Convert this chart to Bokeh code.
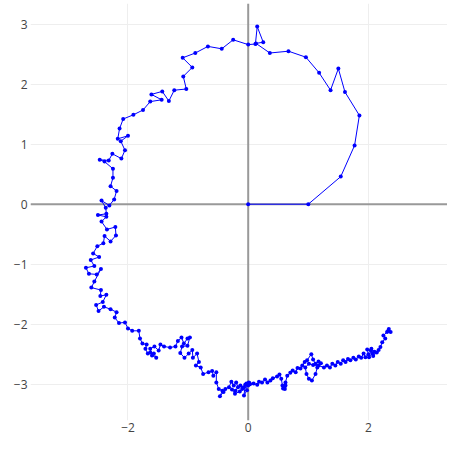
from bokeh.plotting import figure
from bokeh.models import FixedTicker, Span, Range1d
from bokeh.embed import file_html
from bokeh.resources import INLINE

xs = [0.00, 1.00, 1.54, 1.77, 1.85, 1.61, 1.50, 1.37, 1.18, 0.96, 0.67, 0.36, 0.13, 0.25, 0.15, 0.12, 0.00,
      -0.25, -0.44, -0.67, -0.88, -1.09, -0.93, -1.08, -1.03, -1.23, -1.32, -1.43, -1.61, -1.44, -1.63, -1.75,
      -1.91, -2.08, -2.14, -2.17, -2.00, -2.12, -2.05, -2.11, -2.26, -2.32, -2.47, -2.39, -2.25, -2.25, -2.29,
      -2.19, -2.23, -2.31, -2.44, -2.37, -2.36, -2.50, -2.36, -2.44, -2.35, -2.21, -2.20, -2.29, -2.39, -2.41,
      -2.51, -2.58, -2.48, -2.62, -2.56, -2.70, -2.65, -2.52, -2.45, -2.56, -2.61, -2.45, -2.46, -2.36, -2.42,
      -2.53, -2.49, -2.40, -2.29, -2.19, -2.22, -2.15, -2.05, -2.00, -1.93, -1.82, -1.80, -1.76, -1.69, -1.71,
      -1.67, -1.63, -1.57, -1.53, -1.60, -1.63, -1.56, -1.49, -1.46, -1.40, -1.30, -1.21, -1.17, -1.11, -1.07,
      -1.01, -0.97, -1.01, -1.10, -1.13, -1.06, -0.99, -0.93, -0.92, -0.85, -0.82, -0.87, -0.79, -0.75, -0.66,
      -0.60, -0.58, -0.53, -0.53, -0.49, -0.43, -0.47, -0.41, -0.38, -0.32, -0.28, -0.24, -0.20, -0.17, -0.21,
      -0.27, -0.22, -0.14, -0.10, -0.13, -0.07, -0.05, -0.07, -0.02, -0.03, 0.01, 0.03, 0.00, 0.02, 0.09, 0.15,
      0.18, 0.23, 0.28, 0.32, 0.37, 0.41, 0.48, 0.52, 0.55, 0.57, 0.60, 0.62, 0.58, 0.61, 0.62, 0.65, 0.70,
      0.74, 0.79, 0.82, 0.87, 0.90, 0.94, 0.98, 1.05, 1.08, 1.12, 1.17, 1.21, 1.15, 1.12, 1.06, 1.01, 0.97,
      0.95, 1.01, 1.08, 1.17, 1.26, 1.31, 1.36, 1.40, 1.45, 1.49, 1.54, 1.58, 1.62, 1.66, 1.70, 1.75, 1.79,
      1.84, 1.88, 1.92, 1.95, 2.00, 1.98, 2.04, 2.01, 2.07, 2.05, 2.10, 2.08, 2.14, 2.17, 2.20, 2.23, 2.28,
      2.25, 2.31, 2.34, 2.37, 2.33]
ys = [0.00, 0.00, 0.46, 0.98, 1.48, 1.87, 2.26, 1.90, 2.19, 2.45, 2.55, 2.52, 2.68, 2.70, 2.96, 2.67, 2.66,
      2.74, 2.59, 2.63, 2.52, 2.44, 2.28, 2.13, 1.92, 1.90, 1.72, 1.88, 1.83, 1.74, 1.71, 1.57,
      1.49, 1.42, 1.26, 1.09, 1.14, 1.05, 0.90, 0.76, 0.84, 0.73, 0.74, 0.71, 0.59, 0.44, 0.30,
      0.22, 0.08, -0.02, 0.06, -0.06, -0.16, -0.18, -0.21, -0.29, -0.42, -0.38, -0.52, -0.62, -0.53, -0.65,
      -0.70, -0.82, -0.88, -0.93, -1.03, -1.06, -1.16, -1.17, -1.08, -1.29, -1.39, -1.43, -1.53, -1.51, -1.63,
      -1.68, -1.78, -1.71, -1.75, -1.80, -1.89, -1.98, -1.97, -2.07, -2.11, -2.11, -2.24, -2.32, -2.34, -2.41,
      -2.49, -2.47, -2.49, -2.56, -2.52, -2.41, -2.37, -2.44, -2.34, -2.37, -2.39, -2.37, -2.28, -2.22, -2.32,
      -2.24, -2.22, -2.36, -2.37, -2.48, -2.56, -2.49, -2.43, -2.56, -2.49, -2.63, -2.69, -2.72, -2.83, -2.80,
      -2.78, -2.86, -2.80, -2.97, -3.08, -3.11, -3.20, -3.13, -3.08, -3.05, -2.96, -3.02, -2.97, -3.05, -3.11,
      -3.09, -3.16, -3.12, -3.08, -3.02, -3.05, -3.01, -3.19, -3.10, -2.99, -2.97, -3.00, -3.02, -2.98, -2.99, -3.01,
      -2.96, -2.97, -2.92, -2.97, -2.94, -2.90, -2.87, -2.84, -2.91, -3.02, -3.05, -3.02, -3.07, -3.08, -2.97, -2.86, -2.81,
      -2.77, -2.80, -2.73, -2.74, -2.69, -2.63, -2.60, -2.50, -2.59, -2.66, -2.62, -2.65, -2.72, -2.83, -2.94, -2.91, -2.83,
      -2.72, -2.66, -2.68, -2.69, -2.72, -2.69, -2.72, -2.66, -2.69, -2.63, -2.66, -2.60, -2.63, -2.58, -2.60, -2.56, -2.59,
      -2.54, -2.56, -2.49, -2.55, -2.50, -2.42, -2.44, -2.55, -2.49, -2.41, -2.46, -2.53, -2.47, -2.43, -2.38, -2.30, -2.24,
      -2.19, -2.13, -2.08, -2.13, -2.11]

x_ticks = [-2, 0, 2]
y_ticks = [-3, -2, -1, 0, 1, 2, 3]
x_range = (-3.622, 3.316)
y_range = (-3.605, 3.345)


def lab(v):
    return str(v).replace("-", "\u2212")


p = figure(width=447, height=440, output_backend="svg", toolbar_location=None,
           x_range=Range1d(*x_range), y_range=Range1d(*y_range),
           min_border_left=30, min_border_right=0, min_border_top=3, min_border_bottom=20)
p.outline_line_color = None
p.background_fill_color = "white"

for ax, ticks in ((p.xaxis[0], x_ticks), (p.yaxis[0], y_ticks)):
    ax.ticker = FixedTicker(ticks=ticks)
    ax.major_label_overrides = {t: lab(t) for t in ticks}
    ax.axis_line_color = None
    ax.major_tick_line_color = None
    ax.minor_tick_line_color = None
    ax.major_tick_out = 0
    ax.major_tick_in = 0
    ax.major_label_text_font = "Open Sans"
    ax.major_label_text_font_size = "12px"
    ax.major_label_text_color = "#444444"
p.xaxis.major_label_standoff = 2
p.yaxis.major_label_standoff = 3

p.xgrid.ticker = FixedTicker(ticks=x_ticks)
p.ygrid.ticker = FixedTicker(ticks=y_ticks)
p.grid.grid_line_color = "#eeeeee"
p.grid.grid_line_width = 1

p.add_layout(Span(location=0, dimension="height", line_color="#999999", line_width=2, level="underlay"))
p.add_layout(Span(location=0, dimension="width", line_color="#999999", line_width=2, level="underlay"))

p.line(xs, ys, line_color="#0000ff", line_width=1)
p.scatter(xs, ys, size=4, fill_color="#0000ff", line_color="#0000ff", line_width=0)

open("out.html", "w").write(file_html(p, INLINE))
